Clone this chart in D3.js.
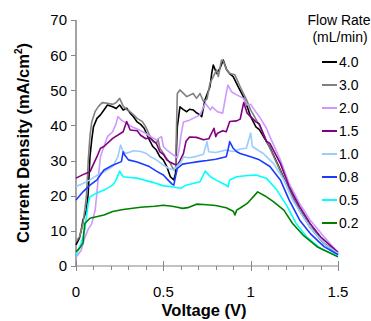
<!DOCTYPE html>
<html>
<head>
<meta charset="utf-8">
<script src="https://cdn.jsdelivr.net/npm/d3@7"></script>
<style>
  html, body { margin: 0; padding: 0; background: #fff; }
  svg { display: block; font-family: "Liberation Sans", Arial, sans-serif; }
</style>
</head>
<body>
<svg id="chart" width="371" height="321"></svg>
<script>
// Polarization curves: current density (mA/cm²) vs. voltage (V) for each flow rate.
const flowRates = ["4.0", "3.0", "2.0", "1.5", "1.0", "0.8", "0.5", "0.2"];
const lineColors = ["#000000", "#808080", "#cc99ff", "#800080", "#99ccff", "#1a3cff", "#00ffff", "#008000"];

const flow40 = [[0.00,6.0],[0.02,8.0],[0.03,10.2],[0.04,13.1],[0.06,15.9],[0.07,20.7],[0.08,31.1],[0.09,35.9],[0.10,39.6],[0.12,42.0],[0.14,43.0],[0.16,44.4],[0.18,45.8],[0.21,45.3],[0.23,44.8],[0.25,45.8],[0.27,44.4],[0.29,44.9],[0.31,43.5],[0.33,42.4],[0.35,41.0],[0.37,40.3],[0.39,39.2],[0.41,37.0],[0.42,35.9],[0.44,34.0],[0.46,33.0],[0.48,31.1],[0.50,30.2],[0.52,28.3],[0.54,25.4],[0.56,24.5],[0.57,26.4],[0.58,39.6],[0.595,45.3],[0.615,44.5],[0.634,43.9],[0.65,44.6],[0.671,44.4],[0.69,43.6],[0.71,43.0],[0.72,42.5],[0.738,47.2],[0.767,51.0],[0.777,54.8],[0.786,57.2],[0.805,54.8],[0.824,56.2],[0.843,58.6],[0.863,55.8],[0.882,54.6],[0.90,53.9],[0.929,51.0],[0.958,48.2],[0.977,45.8],[1.00,42.5],[1.03,39.6],[1.05,38.8],[1.11,33.8],[1.17,27.3],[1.22,21.6],[1.28,15.9],[1.34,11.2],[1.42,6.5],[1.50,3.4]];
const flow30 = [[0.00,7.0],[0.02,8.3],[0.04,12.0],[0.05,15.9],[0.06,20.0],[0.07,30.0],[0.08,37.0],[0.09,41.0],[0.11,44.0],[0.13,45.5],[0.15,46.5],[0.18,46.3],[0.21,46.0],[0.23,46.5],[0.25,47.7],[0.27,45.5],[0.29,44.5],[0.31,43.9],[0.33,43.0],[0.35,42.0],[0.38,41.1],[0.40,39.5],[0.42,37.3],[0.44,35.5],[0.46,34.9],[0.47,36.0],[0.48,33.5],[0.50,32.1],[0.52,30.5],[0.54,29.2],[0.56,27.3],[0.57,28.0],[0.58,49.1],[0.595,50.1],[0.634,48.2],[0.671,49.1],[0.69,47.7],[0.71,49.1],[0.73,46.8],[0.75,47.5],[0.767,52.0],[0.786,53.9],[0.805,55.8],[0.815,53.9],[0.833,58.6],[0.843,58.3],[0.863,55.8],[0.882,54.8],[0.91,54.4],[0.94,51.0],[0.977,47.2],[1.00,44.4],[1.05,40.0],[1.11,33.5],[1.17,27.0],[1.22,21.3],[1.28,15.8],[1.34,11.0],[1.42,6.3],[1.50,3.2]];
const flow20 = [[0.00,2.5],[0.03,4.5],[0.05,8.0],[0.07,10.5],[0.09,12.0],[0.11,16.0],[0.12,21.0],[0.13,26.4],[0.14,31.1],[0.16,34.0],[0.18,36.8],[0.21,38.2],[0.23,40.6],[0.24,42.5],[0.26,41.5],[0.29,40.6],[0.32,39.6],[0.35,39.0],[0.39,38.0],[0.42,37.0],[0.46,35.9],[0.49,36.8],[0.50,34.0],[0.52,33.0],[0.56,31.5],[0.58,30.8],[0.59,33.0],[0.60,36.8],[0.615,41.0],[0.65,41.5],[0.71,43.0],[0.74,46.3],[0.77,44.4],[0.78,45.3],[0.81,43.9],[0.84,43.5],[0.86,49.1],[0.87,51.5],[0.89,49.6],[0.92,48.7],[0.96,47.7],[0.98,45.8],[1.00,46.0],[1.03,43.8],[1.05,42.5],[1.09,39.2],[1.11,36.8],[1.17,30.2],[1.22,23.5],[1.28,17.8],[1.34,13.1],[1.42,8.3],[1.50,3.8]];
const flow15 = [[0.00,25.0],[0.04,26.0],[0.08,26.8],[0.10,29.0],[0.12,31.1],[0.14,33.5],[0.16,34.0],[0.21,36.3],[0.27,38.2],[0.29,41.1],[0.31,38.7],[0.35,38.5],[0.37,37.2],[0.40,36.2],[0.42,36.5],[0.46,34.9],[0.48,32.5],[0.50,31.8],[0.52,30.2],[0.54,29.5],[0.56,29.0],[0.58,28.7],[0.595,30.0],[0.615,32.0],[0.63,35.5],[0.65,36.7],[0.69,36.6],[0.73,35.9],[0.76,36.2],[0.79,39.2],[0.80,36.8],[0.81,37.8],[0.84,38.5],[0.86,38.2],[0.88,41.1],[0.92,41.3],[0.94,41.8],[0.96,46.5],[0.98,43.5],[1.00,42.5],[1.03,41.0],[1.05,40.4],[1.09,35.5],[1.11,34.9],[1.17,29.2],[1.22,22.6],[1.28,16.9],[1.34,12.1],[1.40,8.3],[1.50,3.9]];
const flow10 = [[0.00,22.6],[0.04,23.5],[0.08,24.5],[0.12,25.8],[0.16,26.8],[0.21,28.3],[0.24,31.1],[0.255,34.4],[0.27,32.5],[0.29,32.1],[0.33,32.8],[0.37,32.6],[0.40,32.1],[0.43,31.0],[0.46,30.2],[0.50,28.7],[0.53,27.8],[0.56,27.3],[0.58,28.5],[0.60,29.5],[0.615,31.0],[0.65,30.8],[0.69,31.2],[0.73,31.8],[0.75,35.4],[0.76,32.5],[0.80,32.3],[0.86,33.0],[0.90,32.6],[0.94,33.3],[0.975,33.5],[1.00,37.8],[1.01,34.0],[1.04,33.0],[1.07,32.1],[1.13,29.2],[1.19,24.5],[1.24,18.8],[1.30,14.0],[1.36,9.8],[1.43,6.0],[1.50,3.6]];
const flow08 = [[0.00,18.8],[0.04,21.1],[0.08,23.0],[0.12,24.5],[0.16,27.3],[0.21,28.7],[0.26,29.7],[0.27,32.5],[0.28,31.5],[0.30,30.2],[0.35,29.6],[0.42,28.3],[0.46,27.0],[0.50,25.9],[0.53,24.3],[0.55,23.3],[0.56,23.0],[0.57,25.5],[0.58,27.8],[0.61,29.0],[0.65,29.3],[0.70,29.7],[0.75,30.0],[0.80,30.4],[0.86,31.1],[0.87,33.0],[0.88,35.4],[0.90,33.5],[0.92,32.5],[0.94,32.0],[1.00,31.1],[1.05,30.2],[1.11,28.3],[1.17,24.5],[1.22,18.8],[1.28,13.1],[1.34,9.3],[1.42,5.5],[1.50,3.2]];
const flow05 = [[0.00,3.1],[0.03,6.5],[0.05,10.2],[0.07,17.8],[0.08,19.7],[0.12,20.8],[0.16,21.6],[0.21,23.0],[0.23,24.5],[0.25,27.0],[0.27,25.4],[0.31,25.2],[0.35,25.0],[0.40,24.3],[0.44,23.8],[0.50,22.8],[0.54,22.6],[0.60,22.1],[0.63,23.0],[0.67,23.5],[0.71,24.0],[0.74,27.0],[0.77,25.4],[0.80,24.5],[0.84,23.5],[0.86,23.0],[0.87,22.5],[0.88,24.5],[0.92,25.4],[0.97,25.7],[1.03,25.9],[1.09,25.0],[1.15,21.6],[1.21,16.9],[1.26,12.1],[1.32,8.3],[1.40,5.0],[1.50,2.8]];
const flow02 = [[0.00,4.1],[0.02,5.0],[0.04,6.5],[0.05,12.1],[0.08,13.6],[0.16,14.5],[0.21,15.5],[0.27,16.1],[0.37,16.7],[0.45,17.0],[0.50,17.3],[0.55,17.0],[0.58,16.7],[0.61,16.4],[0.64,16.6],[0.69,17.6],[0.73,17.5],[0.80,17.2],[0.86,16.6],[0.90,15.6],[0.91,14.5],[0.92,15.9],[0.94,16.5],[0.98,17.8],[1.04,21.1],[1.08,20.0],[1.13,18.3],[1.19,15.9],[1.24,12.1],[1.30,8.8],[1.38,5.5],[1.50,2.6]];

const seriesValues = [flow40, flow30, flow20, flow15, flow10, flow08, flow05, flow02];

const xTicks = [0, 0.5, 1, 1.5];
const yTicks = [0, 10, 20, 30, 40, 50, 60, 70];

const svg = d3.select("#chart");
const axisColor = "#868686";

const x = d3.scaleLinear().domain([0, 1.5]).range([76, 338]);
const y = d3.scaleLinear().domain([0, 70]).range([266, 20]);

// X axis: major ticks cross the axis, minor ticks hang below
const xAxisG = svg.append("g").attr("transform", `translate(0,${y(0)})`);
xAxisG.append("line").attr("x1", x(0)).attr("x2", x(1.5)).attr("stroke", axisColor).attr("stroke-width", 1);
const minor = d3.range(0, 1.5001, 0.1);
xAxisG.selectAll(".minor").data(minor).join("line")
  .attr("x1", d => Math.round(x(d)) + 0.5).attr("x2", d => Math.round(x(d)) + 0.5)
  .attr("y1", 0).attr("y2", 4).attr("stroke", axisColor);
xAxisG.selectAll(".major").data(xTicks).join("line")
  .attr("x1", d => Math.round(x(d)) + 0.5).attr("x2", d => Math.round(x(d)) + 0.5)
  .attr("y1", -5).attr("y2", 5).attr("stroke", axisColor);
xAxisG.selectAll("text").data(xTicks).join("text")
  .attr("x", d => x(d)).attr("y", 31)
  .attr("text-anchor", "middle").attr("font-size", 15).attr("fill", "#000")
  .text(d => d3.format("")(d));

// Y axis with outside ticks
const yAxisG = svg.append("g").attr("transform", `translate(${x(0)},0)`);
yAxisG.append("line").attr("y1", y(0)).attr("y2", y(70)).attr("stroke", axisColor).attr("stroke-width", 1.5);
yAxisG.selectAll("line.tick").data(yTicks).join("line")
  .attr("class", "tick")
  .attr("x1", -5).attr("x2", 0)
  .attr("y1", d => Math.round(y(d)) + 0.5).attr("y2", d => Math.round(y(d)) + 0.5)
  .attr("stroke", axisColor);
yAxisG.selectAll("text").data(yTicks).join("text")
  .attr("x", -9).attr("y", d => y(d)).attr("dy", "0.36em")
  .attr("text-anchor", "end").attr("font-size", 15).attr("fill", "#000")
  .text(d => d);

// Axis titles
svg.append("text")
  .attr("x", 204).attr("y", 316)
  .attr("text-anchor", "middle").attr("font-size", 16.5).attr("font-weight", "bold")
  .text("Voltage (V)");

const yTitle = svg.append("text")
  .attr("transform", `translate(29,${(y(0) + y(70)) / 2}) rotate(-90)`)
  .attr("text-anchor", "middle").attr("font-size", 16.5).attr("font-weight", "bold");
yTitle.append("tspan").text("Current Density (mA/cm");
yTitle.append("tspan").attr("font-size", 10).attr("dy", -7).text("2");
yTitle.append("tspan").attr("dy", 7).text(")");

// Curves
const line = d3.line().x(d => x(d[0])).y(d => y(d[1]));
svg.append("g").selectAll("path").data(seriesValues).join("path")
  .attr("d", line)
  .attr("fill", "none")
  .attr("stroke", (d, i) => lineColors[i])
  .attr("stroke-width", 1.6)
  .attr("stroke-linejoin", "round");

// Legend
const legend = svg.append("g");
legend.append("text").attr("x", 339).attr("y", 25).attr("text-anchor", "middle")
  .attr("font-size", 14).text("Flow Rate");
legend.append("text").attr("x", 340).attr("y", 42).attr("text-anchor", "middle")
  .attr("font-size", 14).text("(mL/min)");
const items = legend.selectAll("g.item").data(flowRates).join("g")
  .attr("class", "item")
  .attr("transform", (d, i) => `translate(0,${62 + i * 23})`);
items.append("line").attr("x1", 322).attr("x2", 337).attr("y1", 0).attr("y2", 0)
  .attr("stroke", (d, i) => lineColors[i]).attr("stroke-width", 2);
items.append("text").attr("x", 339).attr("y", 0).attr("dy", "0.36em")
  .attr("font-size", 14).text(d => d);
</script>
</body>
</html>
